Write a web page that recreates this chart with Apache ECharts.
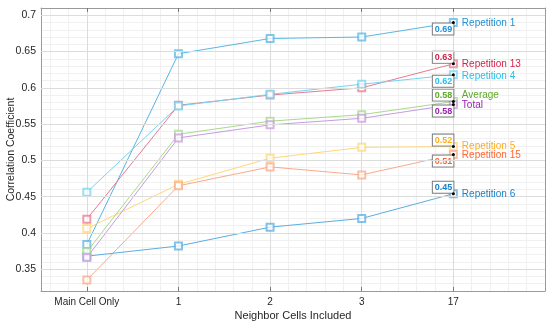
<!DOCTYPE html>
<html><head><meta charset="utf-8">
<script src="https://cdn.jsdelivr.net/npm/echarts@6/dist/echarts.min.js"></script>
<style>html,body{margin:0;padding:0;background:#fff}#c{width:550px;height:325px}</style>
</head><body><div id="c"></div>
<script>
// ---- data ----
const categories = ['Main Cell Only', '1', '2', '3', '17'];
const rep1  = [0.384, 0.647, 0.668, 0.670, 0.690];
const rep13 = [0.419, 0.576, 0.590, 0.600, 0.633];
const rep4  = [0.456, 0.575, 0.591, 0.605, 0.618];
const average = [0.374, 0.536, 0.554, 0.563, 0.581];
const total = [0.366, 0.531, 0.549, 0.558, 0.577];
const rep5  = [0.406, 0.467, 0.503, 0.518, 0.519];
const rep15 = [0.335, 0.465, 0.491, 0.480, 0.508];
const rep6  = [0.368, 0.382, 0.408, 0.420, 0.454];
const yTickValues = [0.35, 0.4, 0.45, 0.5, 0.55, 0.6, 0.65, 0.7];

// series styling: name, data, line colour, text colour, box above?, name label dy
const seriesDefs = [
  {name: 'Repetition 1',  data: rep1,   line: '#58b6e4', text: '#1f8fd6', above: false, dy: 1},
  {name: 'Repetition 13', data: rep13,  line: '#e77a92', text: '#d3234c', above: true,  dy: 0},
  {name: 'Repetition 4',  data: rep4,   line: '#72d5f3', text: '#25c0ee', above: false, dy: 1},
  {name: 'Repetition 5',  data: rep5,   line: '#ffd779', text: '#ffae1c', above: true,  dy: 0},
  {name: 'Repetition 15', data: rep15,  line: '#f9aa8b', text: '#ff6633', above: false, dy: 1},
  {name: 'Repetition 6',  data: rep6,   line: '#5aaee0', text: '#1a80c8', above: true,  dy: 0},
  {name: 'Average',       data: average,line: '#a8d98c', text: '#5ea82b', above: true,  dy: -6},
  {name: 'Total',         data: total,  line: '#c89be0', text: '#9a22ad', above: false, dy: 1}
];

// x axis built from categories in steps of 0.1 unit, half a step margin on left, one on right
const STEP = 10, OFFSET = 5;
const nSlots = OFFSET + (categories.length - 1) * STEP + STEP + 1;
const xSlots = [];
for (let i = 0; i < nSlots; i++) {
  xSlots.push(((i - OFFSET) % STEP === 0 && i >= OFFSET && (i - OFFSET) / STEP < categories.length) ? categories[(i - OFFSET) / STEP] : '');
}
const isMajor = (i) => i >= OFFSET && (i - OFFSET) % STEP === 0 && (i - OFFSET) / STEP < categories.length;
const isMinor = (i) => i % 2 === 1;

const FONT = 'Liberation Sans, Arial, Helvetica, sans-serif';

const series = seriesDefs.map(d => {
  const last = d.data.length - 1;
  return {
    name: d.name, type: 'line', xAxisIndex: 0, yAxisIndex: 0,
    symbol: 'emptyRect', symbolSize: 7,
    lineStyle: {color: d.line, width: 1},
    itemStyle: {color: d.line, borderColor: d.line, borderWidth: 0.8, opacity: 0.75},
    emphasis: {disabled: true},
    data: d.data.map((v, i) => {
      const item = {value: [OFFSET + i * STEP, v]};
      if (i === last) {
        item.label = {
          show: true,
          formatter: (p) => p.value[1].toFixed(2),
          position: ['50%', '50%'],
          align: 'right',
          verticalAlign: d.above ? 'bottom' : 'top',
          offset: [0, d.above ? -1 : 1],
          color: d.text, fontWeight: 'bold', fontSize: 9, fontFamily: FONT,
          backgroundColor: '#fff', borderColor: '#7a7a7a', borderWidth: 1,
          padding: [1, 1, 0, 2], lineHeight: 10, opacity: 1
        };
      }
      return item;
    }),
    markPoint: {
      silent: true, animation: false,
      data: [{
        coord: [OFFSET + last * STEP, d.data[last]],
        symbol: 'circle', symbolSize: 3,
        itemStyle: {color: '#000'},
        label: {show: true, position: 'right', distance: 7, offset: [0, d.dy],
          formatter: d.name, color: d.text, fontSize: 10, fontFamily: FONT}
      }]
    }
  };
});

// major horizontal grid lines
series.unshift({
  type: 'line', data: [], silent: true, z: 0,
  markLine: {silent: true, symbol: 'none', animation: false, label: {show: false},
    lineStyle: {color: '#dcdcdc', type: 'solid', width: 1},
    data: yTickValues.map(v => ({yAxis: v}))}
});

const chart = echarts.init(document.getElementById('c'), null, {renderer: 'canvas'});
chart.setOption({
  animation: false,
  backgroundColor: '#fff',
  grid: {left: 41, right: 5, top: 8, bottom: 34, containLabel: false, outerBoundsMode: 'none'},
  xAxis: [{
    type: 'category', data: xSlots, boundaryGap: false,
    name: 'Neighbor Cells Included', nameLocation: 'middle', nameGap: 19, nameMoveOverlap: false,
    nameTextStyle: {color: '#262626', fontSize: 11, fontFamily: FONT},
    axisLine: {show: true, lineStyle: {color: '#9a9a9a'}},
    axisTick: {show: true, inside: true, length: 4, interval: (i) => isMajor(i), lineStyle: {color: '#777'}},
    axisLabel: {interval: (i) => isMajor(i), color: '#262626', fontSize: 10, fontFamily: FONT, margin: 6},
    splitLine: {show: true, interval: (i) => isMinor(i), lineStyle: {color: '#f0f0f0'}}
  }, {
    type: 'category', data: xSlots, boundaryGap: false, position: 'top',
    axisLine: {show: true, lineStyle: {color: '#9a9a9a'}},
    axisTick: {show: true, inside: true, length: 4, interval: (i) => isMajor(i), lineStyle: {color: '#777'}},
    axisLabel: {show: false},
    splitLine: {show: true, interval: (i) => isMajor(i), lineStyle: {color: '#dcdcdc'}}
  }],
  yAxis: [{
    type: 'value', min: 0.32, max: 0.71, interval: 0.01,
    name: 'Correlation Coefficient', nameLocation: 'middle', nameGap: 24, nameRotate: 90, nameMoveOverlap: false,
    nameTextStyle: {color: '#262626', fontSize: 10.5, fontFamily: FONT},
    axisLine: {show: true, lineStyle: {color: '#9a9a9a'}},
    axisTick: {show: false},
    axisLabel: {color: '#262626', fontSize: 10.5, fontFamily: FONT, margin: 5,
      formatter: (v) => {
        const k = v * 20;
        return Math.abs(k - Math.round(k)) < 1e-6 ? String(+v.toFixed(2)) : '';
      }},
    splitLine: {show: true, lineStyle: {color: '#f0f0f0'}}
  }, {
    type: 'value', min: 0.32, max: 0.71, interval: 0.01, position: 'right',
    axisLine: {show: true, lineStyle: {color: '#9a9a9a'}},
    axisTick: {show: false}, axisLabel: {show: false}, splitLine: {show: false}
  }],
  series: series
});
</script></body></html>
